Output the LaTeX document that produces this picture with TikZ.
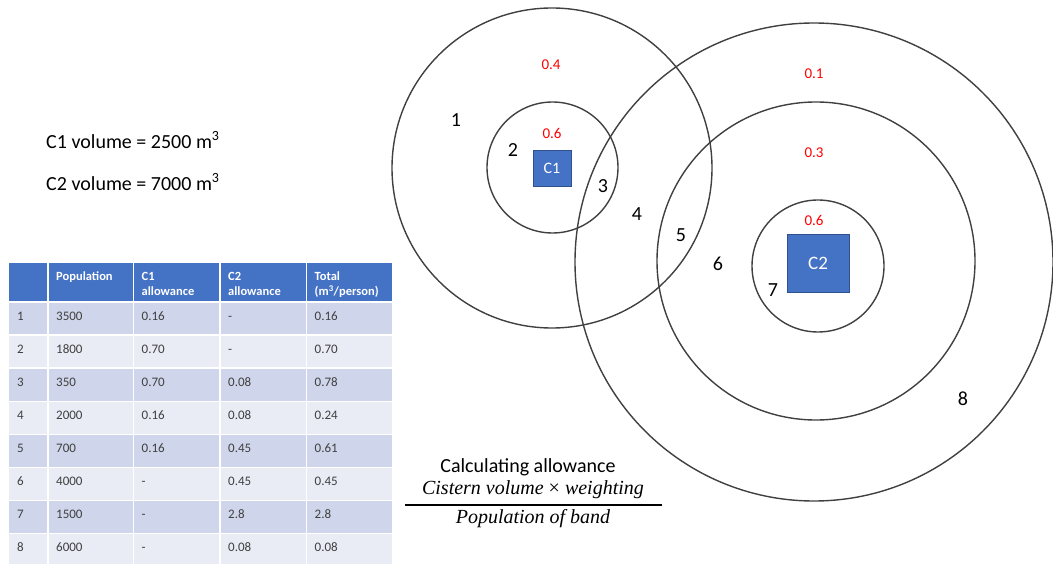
\documentclass[tikz,border=0pt]{standalone}
\usepackage{fontspec}
\setmainfont{Carlito}
\newfontfamily\formulafont{Liberation Serif}
\definecolor{ringgray}{HTML}{404040}
\definecolor{boxblue}{HTML}{4472C4}
\definecolor{boxedge}{HTML}{2F528F}
\definecolor{hdrblue}{HTML}{4472C4}
\definecolor{rowA}{HTML}{CFD5EA}
\definecolor{rowB}{HTML}{E9EBF5}
\definecolor{celltext}{HTML}{404040}
\begin{document}
\begin{tikzpicture}[x=1pt,y=-1pt,
  ring/.style={draw=ringgray,line width=1.4pt,circle,inner sep=0pt},
  cistern/.style={fill=boxblue,draw=boxedge,line width=0.8pt,text=white,inner sep=0pt},
  band/.style={inner sep=0pt,font=\fontsize{20}{24}\selectfont},
  weight/.style={inner sep=0pt,text=red,font=\fontsize{15}{18}\selectfont},
  note/.style={inner sep=0pt,anchor=west,font=\fontsize{20}{24}\selectfont},
  cell/.style={inner sep=0pt,anchor=base west,text=celltext,font=\fontsize{13}{15}\selectfont},
  head/.style={inner sep=0pt,anchor=base west,text=white,font=\fontsize{12.5}{15}\selectfont\bfseries},
  formula/.style={inner sep=0pt,font=\fontsize{20}{24}\selectfont\formulafont\itshape},
  grid/.style={draw=white,line width=1.5pt}]
\useasboundingbox (0,0) rectangle (1053,564);

% catchment rings around cistern C1
\node[ring,minimum size=320] (c1outer) at (552,168) {};
\node[ring,minimum size=131] (c1inner) at (552.5,167.5) {};
% catchment rings around cistern C2
\node[ring,minimum size=478] (c2outer) at (814,262) {};
\node[ring,minimum size=318] (c2middle) at (816,261) {};
\node[ring,minimum size=132] (c2inner) at (818,266) {};

% cisterns
\node[cistern,minimum width=38,minimum height=36,font=\fontsize{16}{19}\selectfont] (c1box) at (552,168) {C1};
\node[cistern,minimum width=62,minimum height=58,font=\fontsize{19}{22}\selectfont] (c2box) at (818,263) {C2};

% weightings
\node[weight] (w04) at (551,65) {0.4};
\node[weight] (w06a) at (552,133) {0.6};
\node[weight] (w01) at (814,74) {0.1};
\node[weight] (w03) at (814,153) {0.3};
\node[weight] (w06b) at (814,220) {0.6};

% band numbers
\node[band] (b1) at (456,120) {1};
\node[band] (b2) at (513,150) {2};
\node[band] (b3) at (603,186) {3};
\node[band] (b4) at (637,214) {4};
\node[band] (b5) at (681,235) {5};
\node[band] (b6) at (718,264) {6};
\node[band] (b7) at (773,290) {7};
\node[band] (b8) at (963,399) {8};

% cistern volumes
\node[note] (v1) at (46,140) {C1 volume = 2500 m\textsuperscript{3}};
\node[note] (v2) at (46,182) {C2 volume = 7000 m\textsuperscript{3}};

% allowance formula
\node[band] (calc) at (528,467) {Calculating allowance};
\node[formula] (num) at (533,490) {Cistern volume {\upshape×} weighting};
\node[formula] (den) at (533,519) {Population of band};
\coordinate (fl) at (405,505);
\coordinate (fr) at (662,505);
\draw[line width=1.2pt] (fl) -- (fr);

% table header
\fill[hdrblue] (9,263) rectangle (392,302);
\foreach \x in {48,133.5,220,306.5} \draw[grid] (\x,263) -- (\x,302);
\node[head] (h2) at (56,280) {Population};
\node[head] (h3a) at (141.5,280) {C1};
\node[head] (h3b) at (141.5,296) {allowance};
\node[head] (h4a) at (228,280) {C2};
\node[head] (h4b) at (228,296) {allowance};
\node[head] (h5a) at (314.5,280) {Total};
\node[head] (h5b) at (314.5,296) {(m\textsuperscript{3}/person)};

% table body
\foreach \a/\b/\c/\d/\e/\f [count=\i] in {
  1/3500/0.16/-/0.16/rowA,
  2/1800/0.70/-/0.70/rowB,
  3/350/0.70/0.08/0.78/rowA,
  4/2000/0.16/0.08/0.24/rowB,
  5/700/0.16/0.45/0.61/rowA,
  6/4000/-/0.45/0.45/rowB,
  7/1500/-/2.8/2.8/rowA,
  8/6000/-/0.08/0.08/rowB}{
  \pgfmathsetmacro\yt{302+33.1*(\i-1)}
  \pgfmathsetmacro\yb{\yt+33.1}
  \pgfmathsetmacro\ys{\yt+18}
  \fill[\f] (9,\yt) rectangle (392,\yb);
  \draw[grid] (9,\yt) -- (392,\yt);
  \foreach \x in {48,133.5,220,306.5} \draw[grid] (\x,\yt) -- (\x,\yb);
  \node[cell] (t\i-a) at (17,\ys) {\a};
  \node[cell] (t\i-b) at (56,\ys) {\b};
  \node[cell] (t\i-c) at (141.5,\ys) {\c};
  \node[cell] (t\i-d) at (228,\ys) {\d};
  \node[cell] (t\i-e) at (314.5,\ys) {\e};
}
\end{tikzpicture}
\end{document}
